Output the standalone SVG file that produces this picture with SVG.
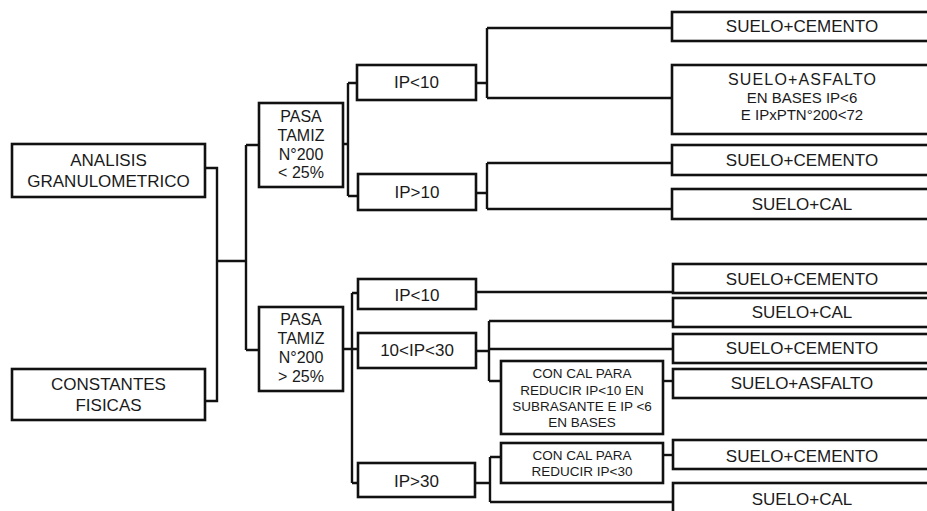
<svg xmlns="http://www.w3.org/2000/svg" width="927" height="511" viewBox="0 0 927 511">
<style>
.b{fill:#fff;stroke:#111;stroke-width:2.6}
.c{fill:none;stroke:#111;stroke-width:2.4;stroke-linejoin:miter}
text{font-family:"Liberation Sans",Arial,sans-serif;fill:#1a1a1a;text-anchor:middle}
.l{font-size:17px}
.m{font-size:16px}
.s{font-size:13.5px}
.t{font-size:15px}
</style>
<rect width="927" height="511" fill="#fff"/>
<g id="connectors" class="c">
<path d="M205,168H217V401H205M217,261H246"/>
<path d="M246,145V350M246,145H259M246,350H259"/>
<path d="M343,144H348M348,83V196M348,83H357M348,196H358"/>
<path d="M476,83H487M487,28V98M487,28H672M487,98H672"/>
<path d="M476,193H487M487,163V209M487,163H672M487,209H672"/>
<path d="M343,349H358M352,293V483M352,293H358M352,483H358"/>
<path d="M476,292H673"/>
<path d="M476,351H489M489,321V381M489,321H673M489,349H673M489,381H501"/>
<path d="M663,381H673"/>
<path d="M475,483H490M490,457V502M490,457H501M490,502H673"/>
<path d="M663,455H673"/>
</g>
<g id="analisis"><rect class="b" x="12" y="144" width="193" height="53"/><text class="l" x="108.5" y="166">ANALISIS</text><text class="l" x="108.5" y="187">GRANULOMETRICO</text></g>
<g id="constantes"><rect class="b" x="12" y="369" width="193" height="51"/><text class="l" x="108.5" y="390">CONSTANTES</text><text class="l" x="108.5" y="411">FISICAS</text></g>
<g id="pasa1"><rect class="b" x="259" y="103" width="84" height="84"/><text class="m" x="301" y="122">PASA</text><text class="m" x="301" y="141">TAMIZ</text><text class="m" x="301" y="160">N°200</text><text class="m" x="301" y="178">&lt; 25%</text></g>
<g id="pasa2"><rect class="b" x="259" y="307" width="84" height="84"/><text class="m" x="301" y="325">PASA</text><text class="m" x="301" y="344">TAMIZ</text><text class="m" x="301" y="363">N°200</text><text class="m" x="301" y="382">&gt; 25%</text></g>
<g id="ip10a"><rect class="b" x="357" y="65" width="119" height="35"/><text class="l" x="416.5" y="88">IP&lt;10</text></g>
<g id="ip10b"><rect class="b" x="358" y="174" width="118" height="36"/><text class="l" x="417" y="198">IP&gt;10</text></g>
<g id="ip10c"><rect class="b" x="358" y="279" width="118" height="30"/><text class="l" x="417" y="301">IP&lt;10</text></g>
<g id="ip1030"><rect class="b" x="358" y="333" width="118" height="35"/><text class="l" x="417" y="356">10&lt;IP&lt;30</text></g>
<g id="ip30"><rect class="b" x="358" y="463" width="117" height="34"/><text class="l" x="416.5" y="487">IP&gt;30</text></g>
<g id="concal1"><rect class="b" x="501" y="361" width="162" height="73"/><text class="s" x="582" y="378">CON CAL PARA</text><text class="s" x="582" y="394.5">REDUCIR IP&lt;10 EN</text><text class="s" x="582" y="410.5">SUBRASANTE E IP &lt;6</text><text class="s" x="582" y="426.5">EN BASES</text></g>
<g id="concal2"><rect class="b" x="501" y="443" width="162" height="40"/><text class="s" x="582" y="460">CON CAL PARA</text><text class="s" x="582" y="476">REDUCIR IP&lt;30</text></g>
<g id="r1"><rect class="b" x="672" y="12" width="262" height="29"/><text class="l" x="802" y="32">SUELO+CEMENTO</text></g>
<g id="r2"><rect class="b" x="672" y="65" width="262" height="69"/><text class="m" x="802" y="85" textLength="148" lengthAdjust="spacing">SUELO+ASFALTO</text><text class="t" x="802" y="103">EN BASES IP&lt;6</text><text class="t" x="802" y="120">E IPxPTN°200&lt;72</text></g>
<g id="r3"><rect class="b" x="672" y="145" width="262" height="30"/><text class="l" x="802" y="166">SUELO+CEMENTO</text></g>
<g id="r4"><rect class="b" x="672" y="189" width="262" height="30"/><text class="l" x="802" y="210">SUELO+CAL</text></g>
<g id="r5"><rect class="b" x="673" y="264" width="261" height="29"/><text class="l" x="802" y="285">SUELO+CEMENTO</text></g>
<g id="r6"><rect class="b" x="673" y="298" width="261" height="29"/><text class="l" x="802" y="318">SUELO+CAL</text></g>
<g id="r7"><rect class="b" x="673" y="334" width="261" height="29"/><text class="l" x="802" y="354">SUELO+CEMENTO</text></g>
<g id="r8"><rect class="b" x="673" y="369" width="261" height="29"/><text class="l" x="802" y="389">SUELO+ASFALTO</text></g>
<g id="r9"><rect class="b" x="673" y="440" width="261" height="29"/><text class="l" x="802" y="462">SUELO+CEMENTO</text></g>
<g id="r10"><rect class="b" x="673" y="483" width="261" height="32"/><text class="l" x="802" y="505">SUELO+CAL</text></g>
</svg>
